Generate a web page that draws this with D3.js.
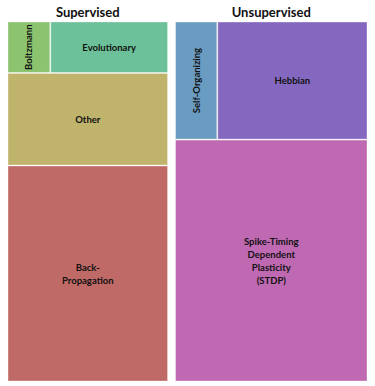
<!DOCTYPE html>
<html>
<head>
<meta charset="utf-8">
<script src="https://cdn.jsdelivr.net/npm/d3@7"></script>
<style>
  body { margin: 0; background: #fff; }
  text { font-family: Lato, "Open Sans", sans-serif; font-weight: bold; fill: #111; }
</style>
</head>
<body>
<script>
// groups, rows within each group, and cells within each row
const groups = ["Supervised", "Unsupervised"];
const rows = [
    [["Boltzmann", "Evolutionary"], ["Other"], ["Back-Propagation"]],
    [["Self-Organizing", "Hebbian"], ["Spike-Timing Dependent Plasticity (STDP)"]]
];
const values = {
    "Boltzmann": 4,
    "Evolutionary": 11,
    "Other": 27,
    "Back-Propagation": 63,
    "Self-Organizing": 9,
    "Hebbian": 32,
    "Spike-Timing Dependent Plasticity (STDP)": 84
};
const colors = {
    "Boltzmann": "#8cc36f",
    "Evolutionary": "#6cc19a",
    "Other": "#c0b46d",
    "Back-Propagation": "#c06a67",
    "Self-Organizing": "#6a9cc2",
    "Hebbian": "#8468bf",
    "Spike-Timing Dependent Plasticity (STDP)": "#bf69b2"
};
const labelLines = {
    "Back-Propagation": ["Back-", "Propagation"],
    "Spike-Timing Dependent Plasticity (STDP)": ["Spike-Timing", "Dependent", "Plasticity", "(STDP)"]
};
const rotated = ["Boltzmann", "Self-Organizing"];

const w = 375, h = 386;
const marginLeft = 8, marginTop = 22;

const tree = {
    name: "root",
    children: groups.map((g, i) => ({
        name: g,
        children: rows[i].map((r, j) => ({
            name: g + "-" + j,
            children: r.map(c => ({ name: c, value: values[c] }))
        }))
    }))
};

const root = d3.hierarchy(tree).sum(d => d.value || 0);

d3.treemap()
    .tile(d3.treemapSliceDice)
    .size([359, 359])
    .paddingInner(d => d.depth === 0 ? 8 : 1)
    (root);

const svg = d3.select("body")
    .append("svg")
    .attr("width", w)
    .attr("height", h);

const g = svg.append("g").attr("transform", `translate(${marginLeft}, ${marginTop})`);

// group titles
g.selectAll("text.title")
    .data(root.children)
    .enter()
    .append("text")
    .attr("class", "title")
    .attr("x", d => (d.x0 + d.x1) / 2)
    .attr("y", -5)
    .attr("text-anchor", "middle")
    .style("font-size", "13px")
    .text(d => d.data.name);

const leaves = root.leaves();

g.selectAll("rect")
    .data(leaves)
    .enter()
    .append("rect")
    .attr("x", d => d.x0)
    .attr("y", d => d.y0)
    .attr("width", d => d.x1 - d.x0)
    .attr("height", d => d.y1 - d.y0)
    .attr("fill", d => colors[d.data.name])
    .attr("stroke", "#fff")
    .attr("stroke-opacity", 0.35)
    .attr("stroke-width", 1);

const labels = g.selectAll("g.label")
    .data(leaves)
    .enter()
    .append("g")
    .attr("class", "label")
    .attr("transform", d => {
        const cx = (d.x0 + d.x1) / 2, cy = (d.y0 + d.y1) / 2;
        return rotated.includes(d.data.name)
            ? `translate(${cx}, ${cy}) rotate(-90)`
            : `translate(${cx}, ${cy})`;
    });

labels.each(function (d) {
    const lines = labelLines[d.data.name] || [d.data.name];
    const lh = 13;
    const t = d3.select(this).append("text")
        .attr("text-anchor", "middle")
        .style("font-size", "9.5px");
    lines.forEach((l, i) => {
        t.append("tspan")
            .attr("x", 0)
            .attr("y", (i - (lines.length - 1) / 2) * lh + 3.5)
            .text(l);
    });
});
</script>
</body>
</html>
